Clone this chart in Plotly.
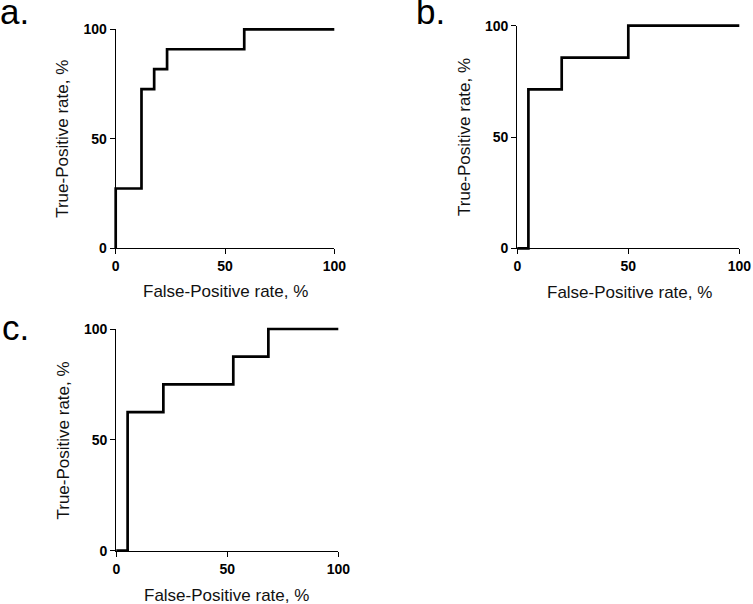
import plotly.graph_objects as go

# ROC step curves (False-Positive rate %, True-Positive rate %)
fpr_a = [0, 0, 11.8, 11.8, 17.6, 17.6, 23.5, 23.5, 58.8, 58.8, 100]
tpr_a = [0, 27.3, 27.3, 72.7, 72.7, 81.8, 81.8, 90.9, 90.9, 100, 100]

fpr_b = [0, 5, 5, 20, 20, 50, 50, 100]
tpr_b = [0, 0, 71.4, 71.4, 85.7, 85.7, 100, 100]

fpr_c = [0, 5.1, 5.1, 21.2, 21.2, 52.7, 52.7, 68.5, 68.5, 100]
tpr_c = [0, 0, 62.5, 62.5, 75, 75, 87.5, 87.5, 100, 100]

tick_vals = [0, 50, 100]
tick_text = ["0", "50", "100"]
panel_labels = ["a.", "b.", "c."]
x_title = "False-Positive rate, %"
y_title = "True-Positive rate, %"

W, H = 753, 604

# plot areas in pixels: (left, right, top, bottom)
areas = [
    (115.7, 334.3, 29.3, 248.3),
    (517.3, 739.3, 25.7, 248.3),
    (116.3, 338.3, 329.0, 550.7),
]

fig = go.Figure()
series = [(fpr_a, tpr_a), (fpr_b, tpr_b), (fpr_c, tpr_c)]

tick_font = dict(family="Liberation Sans, Arial, sans-serif", size=14, color="black",
                 weight="bold")
PAD = 5  # px of room so the curve is not clipped at the plot edges
for i, ((x, y), (l, r, t, b)) in enumerate(zip(series, areas)):
    n = "" if i == 0 else str(i + 1)
    m = str(i + 4)
    common = dict(range=[0, 100], tickvals=tick_vals, ticktext=tick_text,
                  showgrid=False, zeroline=False, showline=True, linecolor="black",
                  linewidth=1.3, ticks="outside", ticklen=5, tickwidth=1.3,
                  tickcolor="black", tickfont=tick_font, fixedrange=True,
                  automargin=False)
    fig.layout["xaxis" + n] = dict(domain=[l / W, r / W], anchor="y" + n, **common)
    fig.layout["yaxis" + n] = dict(domain=[1 - b / H, 1 - t / H], anchor="x" + n, **common)
    # empty trace so the visible axes are drawn
    fig.add_trace(go.Scatter(x=[None], y=[None], mode="lines", xaxis="x" + n,
                             yaxis="y" + n, showlegend=False, hoverinfo="skip"))
    # overlay (hidden) axes with identical scale but a little more room
    px_x = (r - l) / 100.0
    px_y = (b - t) / 100.0
    fig.layout["xaxis" + m] = dict(domain=[(l - PAD) / W, (r + PAD) / W],
                                   range=[-PAD / px_x, 100 + PAD / px_x],
                                   anchor="y" + m, visible=False, fixedrange=True,
                                   automargin=False)
    fig.layout["yaxis" + m] = dict(domain=[1 - (b + PAD) / H, 1 - (t - PAD) / H],
                                   range=[-PAD / px_y, 100 + PAD / px_y],
                                   anchor="x" + m, visible=False, fixedrange=True,
                                   automargin=False)
    fig.add_trace(go.Scatter(x=x, y=y, mode="lines", xaxis="x" + m, yaxis="y" + m,
                             line=dict(color="black", width=2.7),
                             showlegend=False, hoverinfo="skip"))

title_font = dict(family="Liberation Sans, Arial, sans-serif", size=17, color="#111")
ann = []
# x titles
for (cx, cy) in [(225, 291), (629, 292), (226, 595)]:
    ann.append(dict(text=x_title, x=cx / W, y=1 - cy / H, xref="paper", yref="paper",
                    xanchor="center", yanchor="middle", showarrow=False, font=title_font))
# y titles
for (cx, cy) in [(63, 138.8), (464, 137), (63.5, 440)]:
    ann.append(dict(text=y_title, x=cx / W, y=1 - cy / H, xref="paper", yref="paper",
                    xanchor="center", yanchor="middle", textangle=-90, showarrow=False,
                    font=title_font))
# panel labels
label_font = dict(family="Liberation Sans, Arial, sans-serif", size=35, color="black")
for txt, (lx, ly) in zip(panel_labels, [(-2, 11), (414, 12), (0, 327)]):
    ann.append(dict(text=txt, x=lx / W, y=1 - ly / H, xref="paper", yref="paper",
                    xanchor="left", yanchor="middle", showarrow=False, font=label_font))

fig.update_layout(width=W, height=H, margin=dict(l=0, r=0, t=0, b=0),
                  paper_bgcolor="white", plot_bgcolor="rgba(0,0,0,0)", annotations=ann)

fig.write_html("out.html", config={"displayModeBar": False},
               post_script="document.body.style.margin='0';")
